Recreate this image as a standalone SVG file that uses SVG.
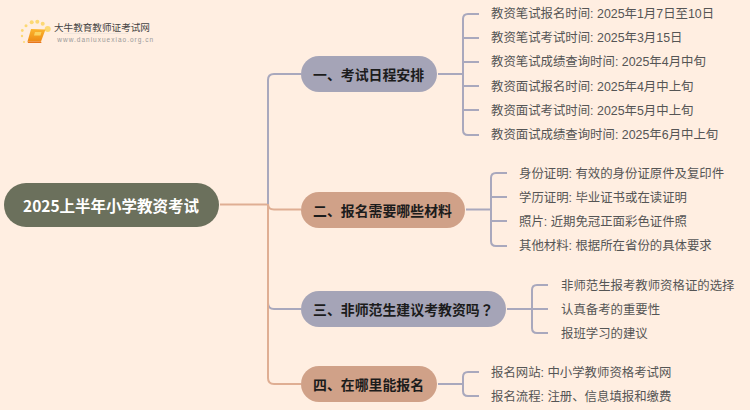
<svg xmlns="http://www.w3.org/2000/svg" width="750" height="410" viewBox="0 0 750 410">
<defs><linearGradient id="bk" x1="0" y1="0" x2="0" y2="1"><stop offset="0" stop-color="#fbb52e"/><stop offset="1" stop-color="#ee8a14"/></linearGradient></defs>
<style>
text{font-family:"Noto Sans CJK SC","Liberation Sans",sans-serif}
.c{fill:none;stroke-width:2;stroke-linejoin:round}
.p{stroke:#a9a8bd}.o{stroke:#dfae93}
.t{font-size:12.400px;fill:#555;font-family:"Liberation Sans","Noto Sans CJK SC",sans-serif}
.h{font-size:13.900px;font-weight:700;fill:#1c1c1c;dominant-baseline:central}
</style>
<rect width="750" height="410" fill="#ffeee1"/>
<g id="logo">
<g fill="#fcd873"><circle cx="47.700" cy="29" r="3"/><circle cx="42.700" cy="23.700" r="2"/><circle cx="37.300" cy="21.700" r="2"/><circle cx="31.700" cy="22.300" r="2"/><circle cx="26" cy="25.700" r="1.500"/><circle cx="22.300" cy="30.500" r="1.400"/><circle cx="22" cy="36" r="1.200"/><circle cx="24" cy="42" r="1"/></g>
<path d="M31 29L45.500 29.500L41 41.500L27.500 41.500z" fill="url(#bk)"/><path d="M35 32h6.500l-1 3.500H34z" fill="#fbd25f"/><path d="M27.500 41.500H41L41.500 43H28z" fill="#e8761a"/>
<text x="54" y="31" font-size="9.600" fill="#444">大牛教育教师证考试网</text>
<path d="M64 33.500H128" stroke="#f0e5dc" stroke-width="1"/>
<text x="57.300" y="41.500" font-size="6.500" fill="#999" letter-spacing="1" style="font-family:'Liberation Sans',sans-serif">www.daniuxuexiao.org.cn</text>
</g>
<g id="connectors">
<path class="c o" d="M220 204.500H268"/>
<path class="c p" d="M301 74H274Q268 74 268 80V204"/>
<path class="c p" d="M268 204V303Q268 309 274 309H301"/>
<path class="c o" d="M268 204Q268 209.500 274 209.500H301"/>
<path class="c o" d="M268 204V378Q268 384 274 384H301"/>
<path class="c p" d="M438 74H463M479 14H468Q463 14 463 19V130Q463 135 468 135H479M463 38H479M463 62H479M463 86H479M463 110H479"/>
<path class="c p" d="M466 209.500H491M507 173H496Q491 173 491 178V241Q491 246 496 246H507M491 197H507M491 221H507"/>
<path class="c p" d="M507 309H532M548 285H537Q532 285 532 290V328Q532 333 537 333H548M532 309H548"/>
<path class="c p" d="M438 384H463M479 372H468Q463 372 463 377V391Q463 396 468 396H479"/>
</g>
<g id="root"><rect x="4" y="183" width="215" height="44" rx="22" fill="#6b705c"/><text x="23" y="204.500" font-size="15.500" font-weight="700" fill="#fff" dominant-baseline="central">2025上半年小学教资考试</text></g>
<g id="n1"><rect x="301" y="56" width="136" height="36" rx="18" fill="#a5a4b7"/><text class="h" x="313" y="74">一、考试日程安排</text></g>
<g id="n2"><rect x="301" y="192" width="164" height="36" rx="18" fill="#d0a188"/><text class="h" x="313" y="210">二、报名需要哪些材料</text></g>
<g id="n3"><rect x="301" y="291" width="205" height="36" rx="18" fill="#a5a4b7"/><text class="h" x="313" y="309">三、非师范生建议考教资吗<tspan style="font-family:'Noto Sans CJK TC',sans-serif">？</tspan></text></g>
<g id="n4"><rect x="301" y="366" width="136" height="36" rx="18" fill="#d0a188"/><text class="h" x="313" y="384">四、在哪里能报名</text></g>
<g id="leaves">
<text class="t" x="491" y="18">教资笔试报名时间: 2025年1月7日至10日</text>
<text class="t" x="491" y="42">教资笔试考试时间: 2025年3月15日</text>
<text class="t" x="491" y="66">教资笔试成绩查询时间: 2025年4月中旬</text>
<text class="t" x="491" y="91">教资面试报名时间: 2025年4月中上旬</text>
<text class="t" x="491" y="115">教资面试考试时间: 2025年5月中上旬</text>
<text class="t" x="491" y="139">教资面试成绩查询时间: 2025年6月中上旬</text>
<text class="t" x="519" y="178">身份证明: 有效的身份证原件及复印件</text>
<text class="t" x="519" y="202">学历证明: 毕业证书或在读证明</text>
<text class="t" x="519" y="226">照片: 近期免冠正面彩色证件照</text>
<text class="t" x="519" y="250">其他材料: 根据所在省份的具体要求</text>
<text class="t" x="561" y="290">非师范生报考教师资格证的选择</text>
<text class="t" x="561" y="314">认真备考的重要性</text>
<text class="t" x="561" y="338">报班学习的建议</text>
<text class="t" x="491" y="377">报名网站: 中小学教师资格考试网</text>
<text class="t" x="491" y="401">报名流程: 注册、信息填报和缴费</text>
</g>
</svg>
